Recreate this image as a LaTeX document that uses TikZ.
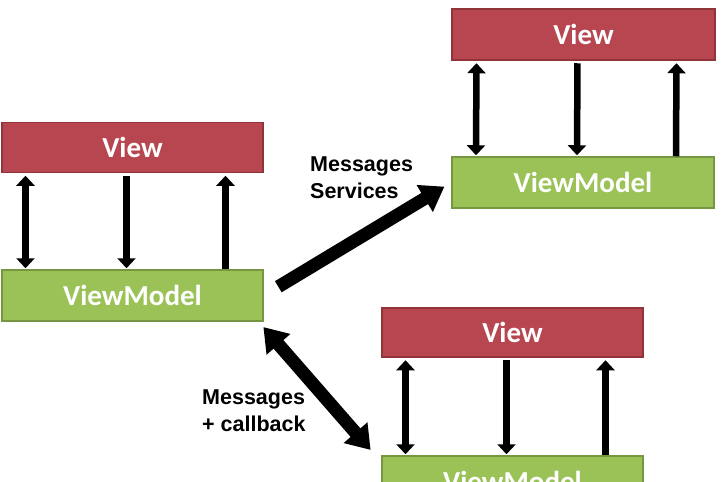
\documentclass[tikz,border=0pt]{standalone}
\usepackage{fontspec}
\setmainfont{Liberation Sans}
\newfontfamily\boxfont{Carlito}
\usetikzlibrary{arrows.meta}
\definecolor{vred}{RGB}{183,70,80}
\definecolor{vredb}{RGB}{145,52,58}
\definecolor{vgreen}{RGB}{155,194,86}
\definecolor{vgreenb}{RGB}{118,150,66}
\tikzset{
  tipv/.tip={Triangle[width=18pt,length=10pt]},
  tipbig/.tip={Triangle[width=30pt,length=23pt]},
  viewbox/.style={draw=vredb, fill=vred, line width=1.5pt, minimum width=261pt, minimum height=50pt, inner sep=0pt, font=\boxfont\bfseries\fontsize{29}{32}\selectfont, text=white},
  vmbox/.style={draw=vgreenb, fill=vgreen, line width=1.5pt, minimum width=261pt, minimum height=51pt, inner sep=0pt, font=\boxfont\bfseries\fontsize{29}{32}\selectfont, text=white},
  vline/.style={line width=6.5pt, shorten <=2.5pt, shorten >=1pt},
  bigarrow/.style={line width=13pt, -{tipbig}},
  bigdouble/.style={line width=13pt, {tipbig}-{tipbig}},
  lbl/.style={font=\bfseries\fontsize{21.5}{26.5}\selectfont, align=left, inner sep=0pt, anchor=north west}
}
\begin{document}
\begin{tikzpicture}[x=1pt,y=-1pt]
\clip (0,0) rectangle (721,482);
\fill[white] (0,0) rectangle (721,482);
% left group
\node[viewbox] (lv) at (132.5,147.5) {View};
\node[vmbox] (lvm) at (132.5,295.5) {ViewModel};
% top right group
\node[viewbox, minimum width=263pt, minimum height=51pt] (tv) at (583.5,34.5) {View};
\node[vmbox, minimum width=262pt] (tvm) at (583,182.5) {ViewModel};
% bottom right group
\node[viewbox, minimum height=49pt] (bv) at (512.5,332.5) {View};
\node[vmbox, minimum height=50pt] (bvm) at (512.5,481) {ViewModel};
% vertical arrows
\foreach \v/\m in {lv/lvm, tv/tvm, bv/bvm}{
  \draw[vline, shorten >=1pt, {tipv}-{tipv}] ([xshift=-107pt]\v.south) -- ([xshift=-107pt]\m.north);
  \draw[vline, -{tipv}] ([xshift=-6pt]\v.south) -- ([xshift=-6pt]\m.north);
  \draw[vline, shorten <=0pt, shorten >=2.5pt, -{tipv}] ([xshift=93pt]\m.north) -- ([xshift=93pt]\v.south);
}
% big arrows
\draw[bigarrow, shorten <=17pt, shorten >=8pt] (lvm.east) -- (tvm.west);
\draw[bigdouble, shorten <=7pt, shorten >=7pt] ([xshift=-5pt]lvm.south east) -- ([xshift=-6pt]bvm.north west);
% labels
\node[lbl] (l1) at (310,157) {Messages\\Services};
\node[lbl] (l2) at (202,390) {Messages\\+ callback};
\end{tikzpicture}
\end{document}
